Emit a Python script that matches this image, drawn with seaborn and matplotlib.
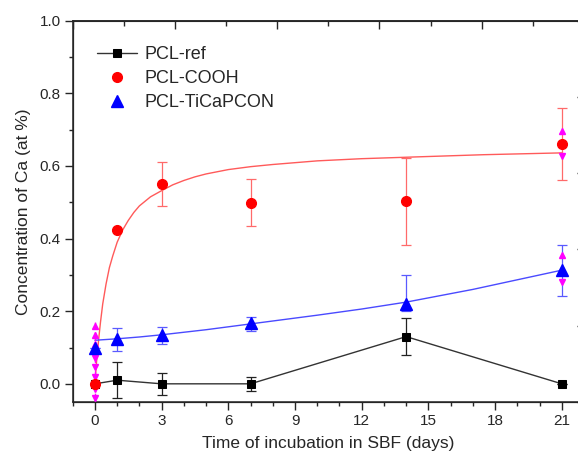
import matplotlib
matplotlib.use("Agg")
import matplotlib.pyplot as plt
import seaborn as sns
import pandas as pd
from matplotlib.ticker import MultipleLocator, NullFormatter

# Data
days = [0, 1, 3, 7, 14, 21]

ref_vals = [0.0, 0.01, 0.0, 0.0, 0.13, 0.0]
ref_err = [0.0, 0.05, 0.03, 0.02, 0.05, 0.0]

cooh_vals = [0.0, 0.423, 0.551, 0.499, 0.503, 0.66]
cooh_err = [0.0, 0.0, 0.06, 0.065, 0.12, 0.10]

ti_vals = [0.10, 0.123, 0.135, 0.167, 0.22, 0.313]
ti_err_lo = [0.0, 0.032, 0.025, 0.022, 0.02, 0.072]
ti_err_hi = [0.0, 0.032, 0.022, 0.018, 0.08, 0.07]

# fitted curves
cooh_fit_days = [0, 0.05, 0.1, 0.18, 0.25, 0.35, 0.5, 0.65, 0.8, 1, 1.25, 1.5, 1.75, 2, 2.5,
                 3, 3.5, 4, 4.5, 5, 6, 7, 8, 10, 12, 14, 17.5, 21]
cooh_fit_vals = [0, 0.045, 0.08, 0.13, 0.17, 0.22, 0.275, 0.32, 0.352, 0.39, 0.424, 0.45,
                 0.472, 0.49, 0.515, 0.532, 0.548, 0.56, 0.57, 0.578, 0.59, 0.598, 0.604,
                 0.614, 0.62, 0.624, 0.631, 0.636]
ti_fit_days = [0, 1, 2, 3, 5, 7, 10, 12, 14, 17, 21]
ti_fit_vals = [0.12, 0.124, 0.129, 0.135, 0.149, 0.165, 0.189, 0.206, 0.225, 0.26, 0.313]

# magenta arrow markers
mag_up_x = [0, 0, 0, 21, 21]
mag_up_y = [0.16, 0.135, 0.11, 0.697, 0.356]
mag_dn_x = [0, 0, 0, 0, 0, 0, 21, 21]
mag_dn_y = [0.07, 0.045, 0.02, -0.015, -0.04, -0.062, 0.627, 0.28]

sns.set_style("ticks")
plt.rcParams['font.family'] = ['Liberation Sans', 'DejaVu Sans']

fig = plt.figure(figsize=(5.78, 4.57), dpi=100)
ax = fig.add_axes([0.1258, 0.1204, 0.8846, 0.8343])

df_cooh_fit = pd.DataFrame({'day': cooh_fit_days, 'val': cooh_fit_vals})
df_ti_fit = pd.DataFrame({'day': ti_fit_days, 'val': ti_fit_vals})
df_ref = pd.DataFrame({'day': days, 'val': ref_vals})

sns.lineplot(data=df_cooh_fit, x='day', y='val', color='#ff5a5a', linewidth=1.0, ax=ax)
sns.lineplot(data=df_ti_fit, x='day', y='val', color='#4a4aff', linewidth=1.0, ax=ax)

# error bars
ax.errorbar(days, ref_vals, yerr=ref_err, fmt='none', ecolor='#222222', elinewidth=0.9,
            capsize=3.5, capthick=0.9)
ax.errorbar(days, cooh_vals, yerr=cooh_err, fmt='none', ecolor='#ff6a6a', elinewidth=0.9,
            capsize=3.5, capthick=0.9)
ax.errorbar(days, ti_vals, yerr=[ti_err_lo, ti_err_hi], fmt='none', ecolor='#5a5aff',
            elinewidth=0.9, capsize=3.5, capthick=0.9)

# magenta arrows
ax.plot([0, 0], [-0.063, 0.17], color='magenta', linestyle=(0, (2, 2)), linewidth=1.0, zorder=3)
ax.plot(mag_up_x, mag_up_y, linestyle='none', marker='^', color='magenta', markersize=4, zorder=3)
ax.plot(mag_dn_x, mag_dn_y, linestyle='none', marker='v', color='magenta', markersize=4, zorder=3)

sns.lineplot(data=df_ref, x='day', y='val', color='#333333', linewidth=1.0, ax=ax,
             marker='s', markersize=6, markerfacecolor='black', markeredgecolor='black',
             label='PCL-ref', zorder=4)
ax.plot(days, cooh_vals, linestyle='none', marker='o', markersize=7, color='#ff0000',
        label='PCL-COOH', zorder=4)
ax.plot(days, ti_vals, linestyle='none', marker='^', markersize=8.5, color='#0000ff',
        label='PCL-TiCaPCON', zorder=4)

ax.set_xlim(-1, 22)
ax.set_ylim(-0.05, 1.0)
ax.xaxis.set_major_locator(MultipleLocator(3))
ax.xaxis.set_minor_locator(MultipleLocator(1))
ax.yaxis.set_major_locator(MultipleLocator(0.2))
ax.yaxis.set_minor_locator(MultipleLocator(0.1))
ax.yaxis.set_major_formatter(matplotlib.ticker.FormatStrFormatter('%.1f'))
ax.tick_params(which='major', direction='out', length=5.5, width=1.0, labelsize=11, pad=3)
ax.tick_params(which='minor', direction='out', length=3, width=1.0)
ax.tick_params(top=False, right=False)
for s in ax.spines.values():
    s.set_linewidth(1.1)

ax.set_xlabel('Time of incubation in SBF (days)', fontsize=12.5, labelpad=6)
ax.set_ylabel('Concentration of Ca (at %)', fontsize=12.5, labelpad=6)

leg = ax.legend(loc='upper left', frameon=False, fontsize=13, handlelength=2.2,
                handletextpad=0.4, labelspacing=0.37, bbox_to_anchor=(0.016, 0.975))

# extra tick layers on top and right
axt = ax.twiny()
axt.set_xlim(0, 5)
axt.xaxis.set_major_locator(MultipleLocator(1))
axt.xaxis.set_minor_locator(MultipleLocator(0.5))
axt.xaxis.set_major_formatter(NullFormatter())
axt.tick_params(which='major', direction='in', length=5.5, width=1.0)
axt.tick_params(which='minor', direction='in', length=3.5, width=1.0)
axt.spines['top'].set_linewidth(1.1)

axr = ax.twinx()
axr.set_ylim(0, 5)
axr.yaxis.set_major_locator(MultipleLocator(1))
axr.yaxis.set_major_formatter(NullFormatter())
axr.tick_params(which='major', direction='in', length=5, width=1.0)

fig.savefig('out.png', dpi=100)
